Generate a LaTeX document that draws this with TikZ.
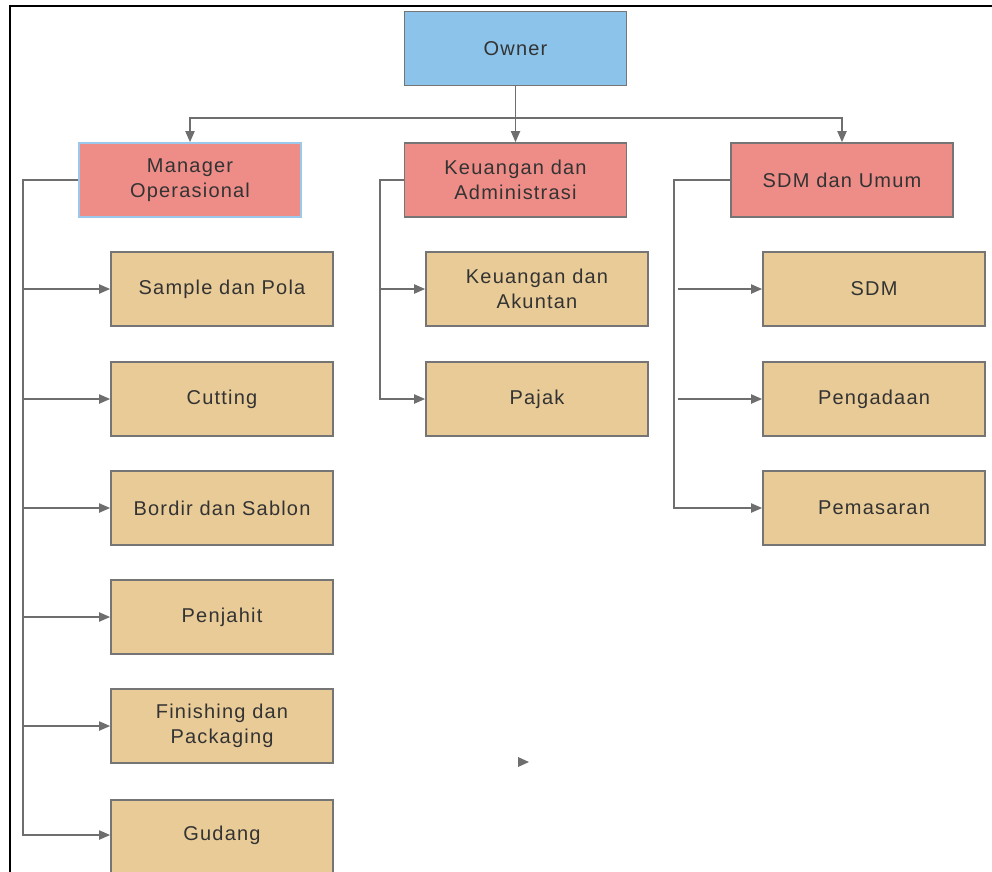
\documentclass[tikz,border=0pt]{standalone}
\usepackage{fontspec}
\setmainfont{Liberation Sans}[LetterSpace=6]
\usetikzlibrary{arrows.meta}
\definecolor{ownerblue}{HTML}{8BC3EB}
\definecolor{mgrpink}{HTML}{EE8D87}
\definecolor{unittan}{HTML}{E9CB97}
\definecolor{edgegray}{HTML}{757575}
\definecolor{linegray}{HTML}{6E6E6E}
\definecolor{txtgray}{HTML}{333333}
\definecolor{mgredge}{HTML}{9CC8EC}
\tikzset{
  box/.style={draw=edgegray, line width=1.6pt, minimum width=222pt, minimum height=74pt,
    inner sep=0pt, align=center, text=txtgray, font=\fontsize{20}{25}\selectfont},
  ownerbox/.style={box, fill=ownerblue},
  mgrbox/.style={box, fill=mgrpink},
  unitbox/.style={box, fill=unittan},
  conn/.style={draw=linegray, line width=1.8pt},
  arr/.style={conn, -{Triangle[length=11pt,width=9pt]}},
}
\begin{document}
\begin{tikzpicture}[x=1pt,y=-1pt]
\useasboundingbox (0,0) rectangle (992,871);
\clip (0,0) rectangle (992,871);
\fill[white] (0,0) rectangle (992,871);
% frame
\draw[black, line width=2.4pt] (10,880) -- (10,6) -- (1000,6);

\node[ownerbox] (owner) at (515.5,48.5) {Owner};
\node[mgrbox, draw=mgredge] (mgr) at (190,180) {Manager\\Operasional};
\node[mgrbox] (keu) at (515.5,180) {Keuangan dan\\Administrasi};
\node[mgrbox] (sdmu) at (842,180) {SDM dan Umum};

\node[unitbox] (sample) at (222,289) {Sample dan Pola};
\node[unitbox] (cutting) at (222,399) {Cutting};
\node[unitbox] (bordir) at (222,508) {Bordir dan Sablon};
\node[unitbox] (penjahit) at (222,617) {Penjahit};
\node[unitbox] (finish) at (222,726) {Finishing dan\\Packaging};
\node[unitbox, anchor=north] (gudang) at (222,799) {};
\node[text=txtgray, font=\fontsize{20}{25}\selectfont] (gudangtxt) at (222,835) {Gudang};

\node[unitbox] (akuntan) at (537,289) {Keuangan dan\\Akuntan};
\node[unitbox] (pajak) at (537,399) {Pajak};

\node[unitbox] (sdm) at (874,289) {SDM};
\node[unitbox] (pengadaan) at (874,399) {Pengadaan};
\node[unitbox] (pemasaran) at (874,508) {Pemasaran};

\coordinate (bus) at (515.5,118);
\coordinate (sL) at (23,180);
\coordinate (sM) at (380,180);
\coordinate (sR) at (674,180);
\coordinate (gudangin) at (gudang.north west |- gudangtxt);

% owner to managers
\draw[arr] (owner.south) -- (keu.north);
\draw[arr] (bus) -| (mgr.north);
\draw[arr] (bus) -| (sdmu.north);

% left branch
\draw[arr] (mgr.west) -- (sL) |- (gudangin);
\foreach \n in {sample,cutting,bordir,penjahit,finish}
  \draw[arr] (sL |- \n.west) -- (\n.west);

% middle branch
\draw[arr] (keu.west) -- (sM) |- (pajak.west);
\draw[arr] (sM |- akuntan.west) -- (akuntan.west);

% right branch
\draw[arr] (sdmu.west) -- (sR) |- (pemasaran.west);
\foreach \n in {sdm,pengadaan}
  \draw[arr] ([xshift=4pt]sR |- \n.west) -- (\n.west);

% stray arrowhead
\coordinate (stray) at (529,762);
\fill[linegray] (stray) -- ++(-11,-5) -- ++(0,10) -- cycle;
\end{tikzpicture}
\end{document}
